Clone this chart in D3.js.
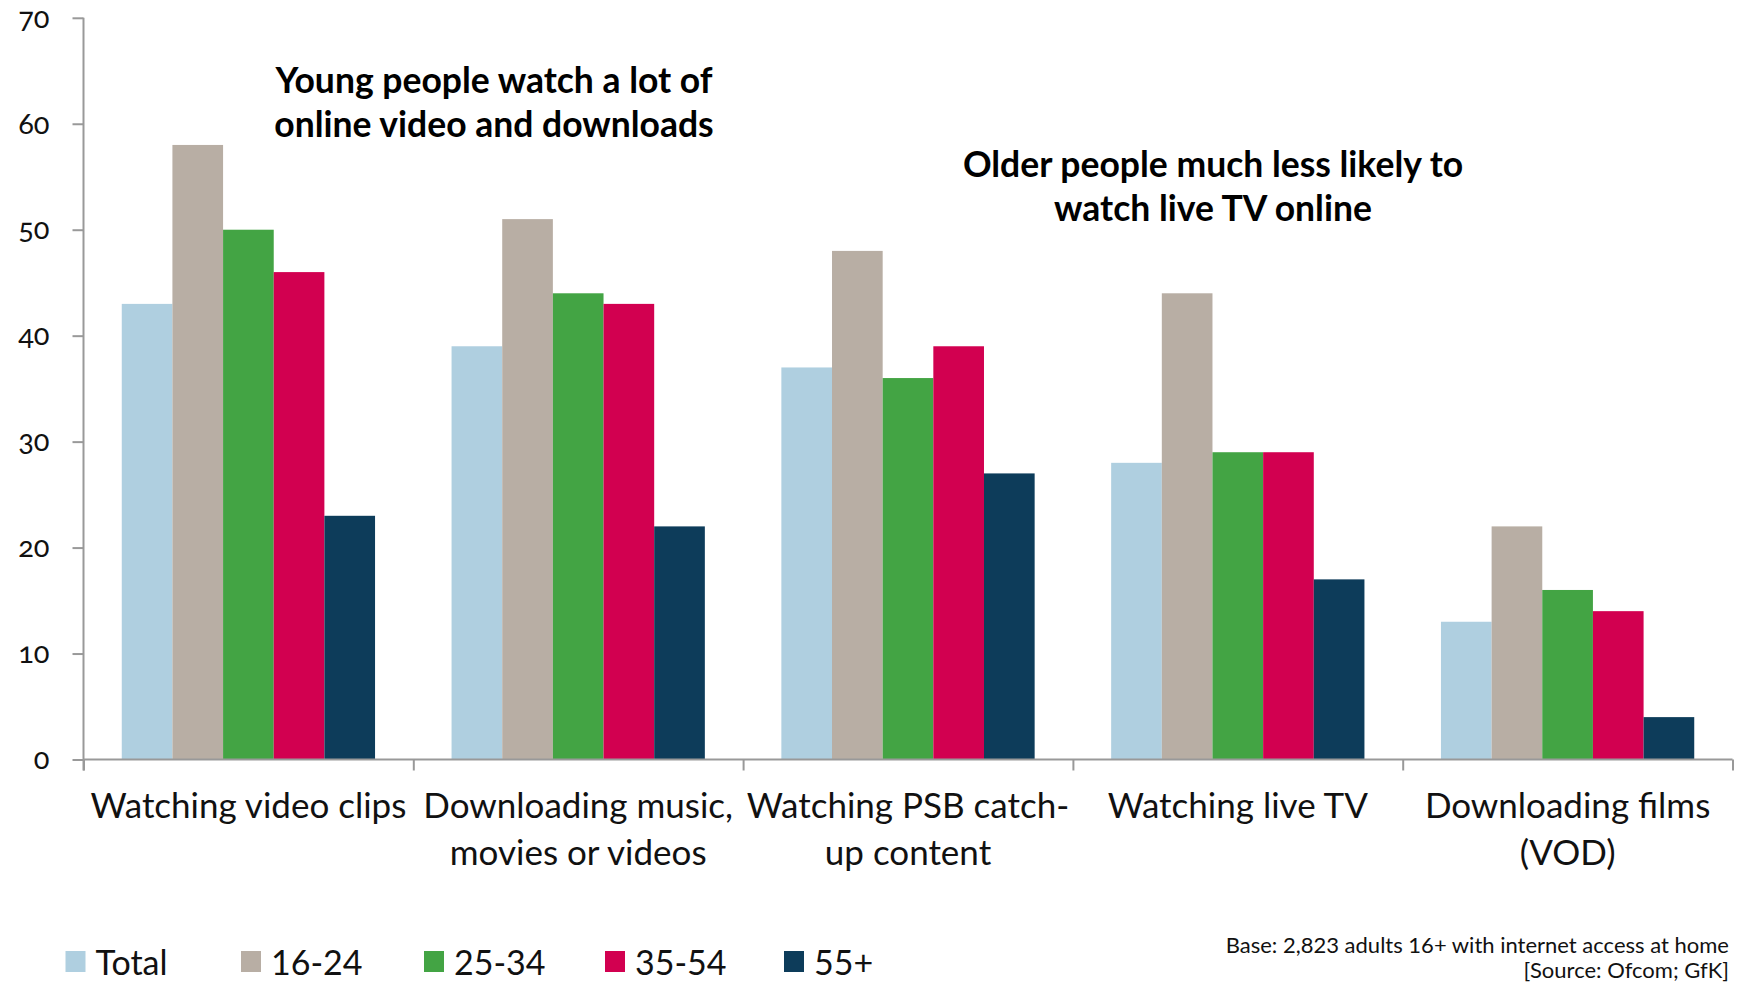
<!DOCTYPE html>
<html><head><meta charset="utf-8">
<script src="https://cdn.jsdelivr.net/npm/d3@7"></script>
<style>
html,body{margin:0;padding:0;background:#fff;}
svg{display:block;font-family:Lato,"Open Sans",sans-serif;}
</style></head>
<body>
<svg id="chart" width="1741" height="983"></svg>
<script>
const categories = [
  ["Watching video clips"],
  ["Downloading music,", "movies or videos"],
  ["Watching PSB catch-", "up content"],
  ["Watching live TV"],
  ["Downloading films", "(VOD)"]
];
const seriesNames = ["Total", "16-24", "25-34", "35-54", "55+"];
const seriesColors = ["#AFCFE0", "#B8AEA4", "#43A444", "#D20050", "#0D3C5A"];
const totalVals = [43, 39, 37, 28, 13];
const age1624 = [58, 51, 48, 44, 22];
const age2534 = [50, 44, 36, 29, 16];
const age3554 = [46, 43, 39, 29, 14];
const age55 = [23, 22, 27, 17, 4];
const yTicks = [0, 10, 20, 30, 40, 50, 60, 70];
const annotations = [
  {lines: ["Young people watch a lot of", "online video and downloads"], cx: 494, y: 81},
  {lines: ["Older people much less likely to", "watch live TV online"], cx: 1213, y: 165}
];
const footnote = ["Base: 2,823 adults 16+ with internet access at home", "[Source: Ofcom; GfK]"];

const seriesVals = [totalVals, age1624, age2534, age3554, age55];
const svg = d3.select("#chart");
const pLeft = 83.5, pRight = 1732.5, pTop = 17.8, pBottom = 759.5;
const catIdx = categories.map((d, i) => i);

const x0 = d3.scaleBand().domain(catIdx).range([pLeft, pRight]).padding(0);
const bw = x0.bandwidth();
const x1 = d3.scaleBand().domain(seriesNames).range([bw * 0.116, bw * 0.884]).padding(0);
const y = d3.scaleLinear().domain([0, 70]).range([pBottom, pTop]);
const xb = d3.scaleLinear().domain([0, categories.length]).range([pLeft, pRight]);

// bars
const g = svg.append("g");
categories.forEach((c, ci) => {
  seriesNames.forEach((s, si) => {
    const v = seriesVals[si][ci];
    g.append("rect")
      .attr("x", x0(ci) + x1(s))
      .attr("y", y(v))
      .attr("width", x1.bandwidth())
      .attr("height", y(0) - y(v))
      .attr("fill", seriesColors[si]);
  });
});

// y axis
const yAxis = svg.append("g").attr("transform", `translate(${pLeft},0)`)
  .call(d3.axisLeft(y).tickValues(yTicks).tickSize(11).tickPadding(23).tickFormat(d3.format("d")));
yAxis.select(".domain").attr("stroke", "#999").attr("stroke-width", 2).attr("d", `M0,${pTop}V${pBottom + 11}`);
yAxis.selectAll(".tick line").attr("stroke", "#999").attr("stroke-width", 2);
yAxis.selectAll(".tick text").attr("fill", "#111").style("font-size", "29px")
  .style("font-family", "Lato, sans-serif").style("font-variant-numeric", "oldstyle-nums");

// x axis
const xAxis = svg.append("g").attr("transform", `translate(0,${pBottom})`)
  .call(d3.axisBottom(xb).tickValues(d3.range(0, categories.length + 1)).tickSize(11).tickFormat(""));
xAxis.select(".domain").attr("stroke", "#999").attr("stroke-width", 2).attr("d", `M${pLeft},0H${pRight}`);
xAxis.selectAll(".tick line").attr("stroke", "#999").attr("stroke-width", 2);

// category labels
categories.forEach((lines, ci) => {
  const t = svg.append("text").attr("text-anchor", "middle")
    .attr("x", x0(ci) + bw / 2).attr("y", 818)
    .style("font-size", "35px").attr("fill", "#111");
  lines.forEach((l, li) => t.append("tspan").attr("x", x0(ci) + bw / 2).attr("dy", li ? 47 : 0).text(l));
});

// annotations
annotations.forEach(a => {
  const t = svg.append("text").attr("text-anchor", "middle").attr("y", a.y + 12)
    .style("font-size", "35.5px").style("font-weight", "bold").attr("fill", "#000");
  a.lines.forEach((l, li) => t.append("tspan").attr("x", a.cx).attr("dy", li ? 44 : 0).text(l));
});

// legend
const legX = [65.5, 241, 424, 605, 784];
seriesNames.forEach((s, si) => {
  svg.append("rect").attr("x", legX[si]).attr("y", 951).attr("width", 20).attr("height", 21).attr("fill", seriesColors[si]);
  svg.append("text").attr("x", legX[si] + 30).attr("y", 975).style("font-size", "34px").attr("fill", "#111").text(s);
});

// footnote
footnote.forEach((f, i) => {
  svg.append("text").attr("x", 1729).attr("y", 953 + i * 25).attr("text-anchor", "end")
    .style("font-size", "22px").attr("fill", "#111").text(f);
});
</script>
</body></html>
